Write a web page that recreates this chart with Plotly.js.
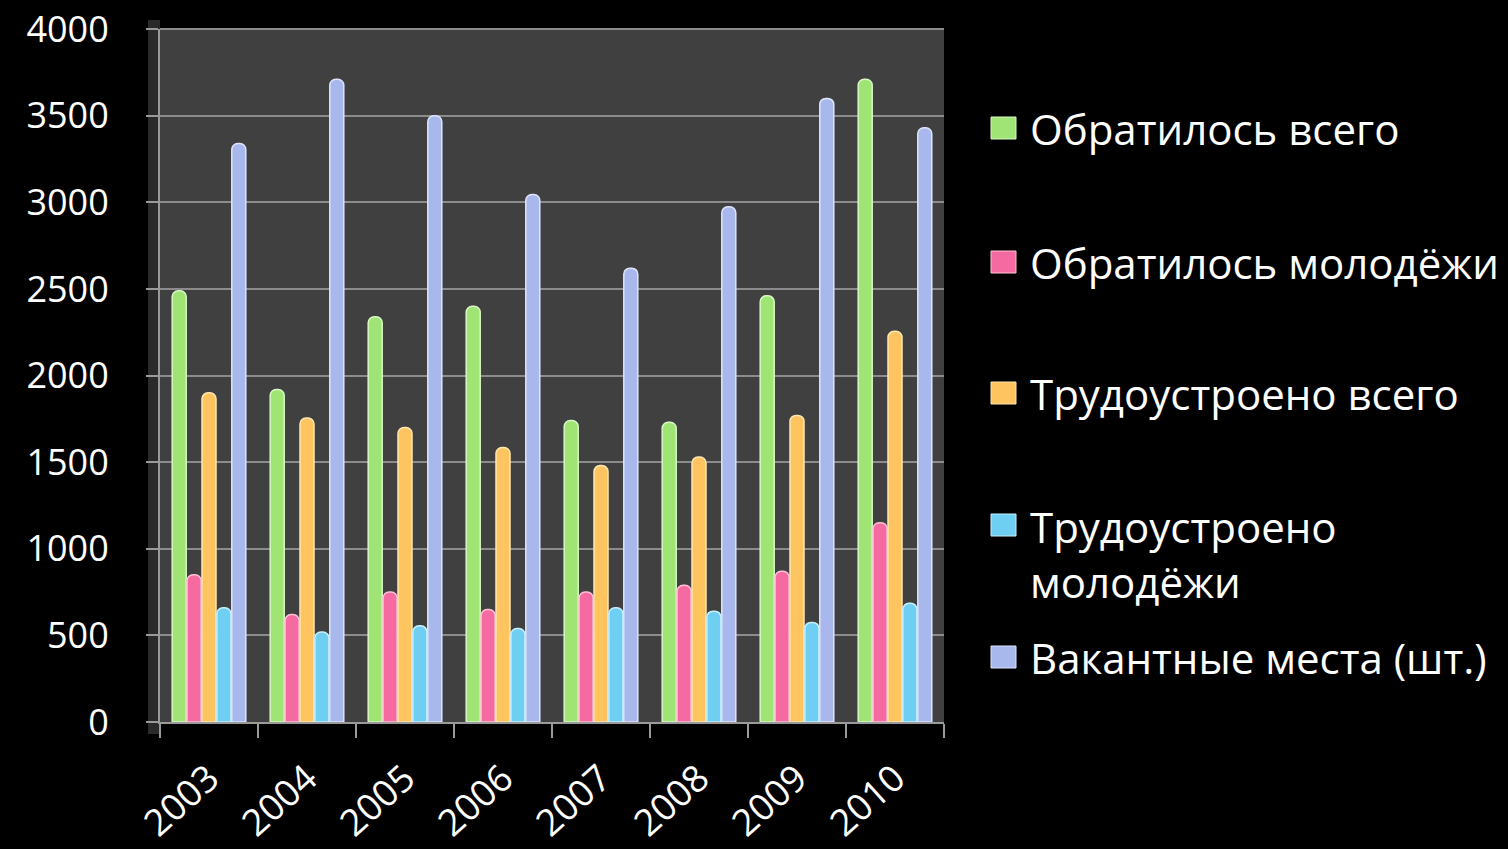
<!DOCTYPE html>
<html>
<head>
<meta charset="utf-8">
<script src="https://cdn.plot.ly/plotly-3.0.1.min.js"></script>
<style>html,body{margin:0;padding:0;background:#000;}#chart{width:1508px;height:849px;}</style>
</head>
<body>
<div id="chart"></div>
<script>
var years = ['2003','2004','2005','2006','2007','2008','2009','2010'];
var seriesNames = ['Обратилось всего','Обратилось молодёжи','Трудоустроено всего','Трудоустроено<br>молодёжи','Вакантные места (шт.)'];
var appliedTotal = [2490, 1920, 2340, 2400, 1740, 1730, 2460, 3710];
var appliedYouth = [850, 620, 750, 650, 750, 790, 870, 1150];
var employedTotal = [1900, 1755, 1700, 1585, 1480, 1530, 1770, 2255];
var employedYouth = [660, 520, 555, 540, 660, 640, 575, 685];
var vacancies = [3340, 3710, 3500, 3045, 2620, 2975, 3600, 3430];
var yTicks = [0, 500, 1000, 1500, 2000, 2500, 3000, 3500, 4000];

var seriesValues = [appliedTotal, appliedYouth, employedTotal, employedYouth, vacancies];
var colors = ['#9fe474', '#f56aa0', '#fdc460', '#6fcff2', '#a9b8ec'];
var edges = ['#d8f7c4', '#ffc0d6', '#ffe6b0', '#c6efff', '#dde4fb'];

var traces = seriesValues.map(function (vals, i) {
  return {
    type: 'bar',
    x: years,
    y: vals,
    name: seriesNames[i],
    marker: {color: colors[i], line: {color: edges[i], width: 1.5}, cornerradius: 6},
    showlegend: false,
    hoverinfo: 'x+y+name'
  };
});

var font = "'Open Sans', 'Noto Sans', sans-serif";
var L = 160, R = 564, T = 29, B = 127;
var W = 1508 - L - R, H = 849 - T - B;
function px(x) { return (x - L) / W; }
function py(y) { return (849 - B - y) / H; }

var shapes = [
  {type: 'rect', xref: 'paper', yref: 'paper', x0: px(148), x1: px(160), y0: py(734), y1: py(20),
   fillcolor: '#2a2a2a', line: {width: 0}, layer: 'below'},
  {type: 'line', xref: 'paper', yref: 'paper', x0: 0, x1: 1, y0: 1, y1: 1,
   line: {color: '#8c8c8c', width: 2}}
];
var annotations = [];
var legendY = [128, 262, 393, 554, 657];
legendY.forEach(function (y, i) {
  var sq = (i === 3) ? 525 : y;
  shapes.push({type: 'rect', xref: 'paper', yref: 'paper',
    x0: px(991), x1: px(1016), y0: py(sq + 11), y1: py(sq - 11),
    fillcolor: colors[i], line: {color: edges[i], width: 1}});
  annotations.push({
    xref: 'paper', yref: 'paper', x: px(1028), y: py(y), xanchor: 'left', yanchor: 'middle',
    align: 'left', text: seriesNames[i], showarrow: false,
    font: {family: font, size: 42, color: '#ffffff'}
  });
});

var layout = {
  width: 1508, height: 849,
  paper_bgcolor: '#000000',
  plot_bgcolor: '#404040',
  margin: {l: L, r: R, t: T, b: B, pad: 0},
  barmode: 'group',
  bargap: 0.24,
  bargroupgap: 0.06,
  showlegend: false,
  font: {family: font, color: '#ffffff'},
  xaxis: {
    type: 'category',
    tickson: 'boundaries',
    ticks: 'outside', ticklen: 14, tickcolor: '#9a9a9a', tickwidth: 2,
    showline: true, linecolor: '#9a9a9a', linewidth: 2,
    showgrid: false,
    tickangle: -42,
    ticklabelstandoff: 18,
    tickfont: {family: font, size: 37, color: '#ffffff'}
  },
  yaxis: {
    range: [0, 4000.5],
    tickvals: yTicks,
    ticktext: yTicks.map(String),
    ticks: 'outside', ticklen: 12, tickcolor: '#9a9a9a', tickwidth: 2,
    showline: true, linecolor: '#9a9a9a', linewidth: 2,
    showgrid: true, gridcolor: '#8c8c8c', gridwidth: 2,
    zeroline: false,
    ticklabeloverflow: 'allow',
    ticklabelstandoff: 30,
    tickfont: {family: font, size: 36, color: '#ffffff'}
  },
  shapes: shapes,
  annotations: annotations
};

Plotly.newPlot('chart', traces, layout, {displayModeBar: false, staticPlot: true});
</script>
</body>
</html>
